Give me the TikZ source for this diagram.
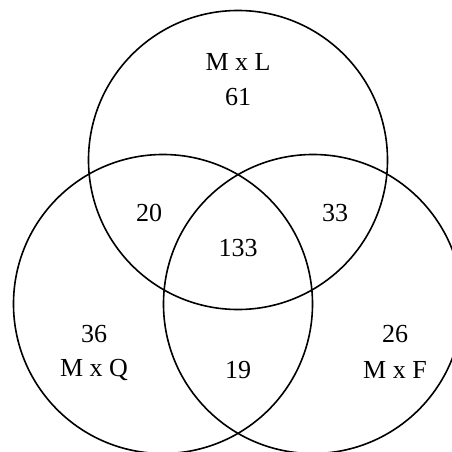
\documentclass[tikz,border=0pt]{standalone}
\usepackage{fontspec}
\setmainfont{Liberation Serif}
\begin{document}
\begin{tikzpicture}[x=1pt,y=-1pt,
  setcircle/.style={circle,draw=black,line width=1.6pt,minimum size=299pt,inner sep=0pt},
  lbl/.style={font=\fontsize{26}{31}\selectfont,inner sep=0pt,text=black}]
\useasboundingbox (0,0) rectangle (452,452);
\clip (0,0) rectangle (452,452);
\fill[white] (0,0) rectangle (452,452);
\node[setcircle] (L) at (238,160) {};
\node[setcircle] (Q) at (163,304) {};
\node[setcircle] (F) at (313,304) {};
\node[lbl] (tL) at (238,62) {M x L};
\node[lbl] (nL) at (238,97) {61};
\node[lbl] (nLQ) at (149,213) {20};
\node[lbl] (nLF) at (335,213) {33};
\node[lbl] (nAll) at (238,248) {133};
\node[lbl] (nQ) at (94,334) {36};
\node[lbl] (tQ) at (94,370) {M x Q};
\node[lbl] (nQF) at (238,370) {19};
\node[lbl] (nF) at (395,334) {26};
\node[lbl] (tF) at (395,370) {M x F};
\end{tikzpicture}
\end{document}
